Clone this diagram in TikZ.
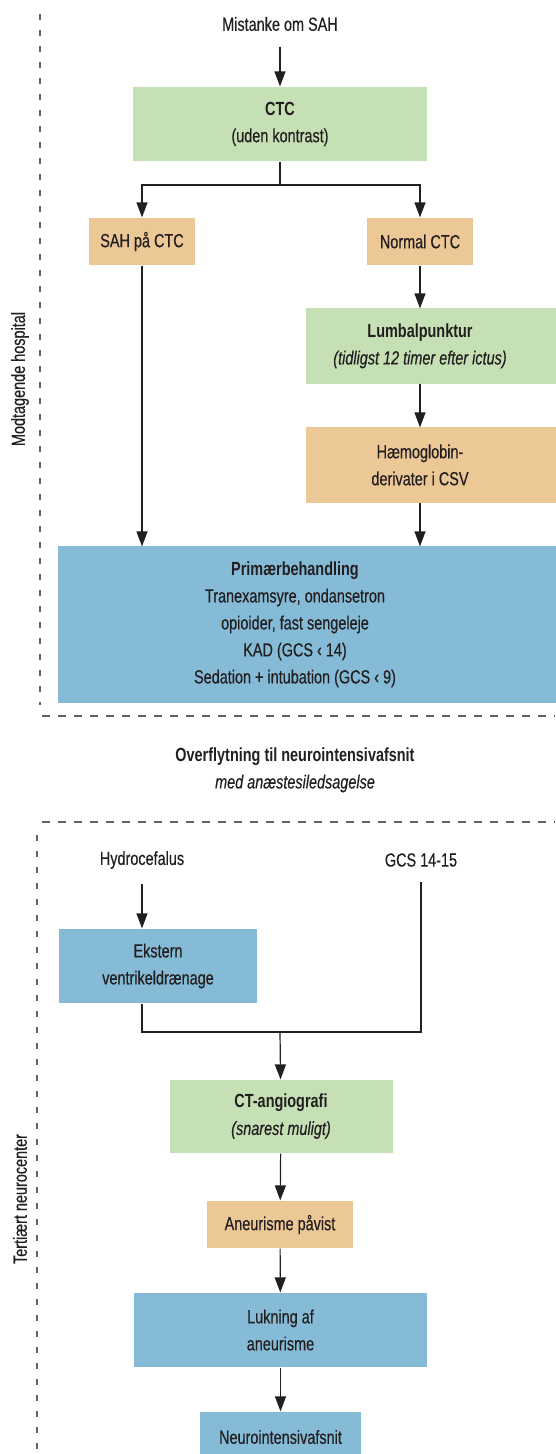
\documentclass[tikz,border=0pt]{standalone}
\usepackage{fontspec}
\setmainfont{Liberation Sans}[FakeStretch=0.76,UprightFeatures={FakeBold=0.4},ItalicFeatures={FakeBold=0.4}]
\usetikzlibrary{arrows.meta,positioning,backgrounds}
\definecolor{ctgreen}{RGB}{197,224,180}
\definecolor{findorange}{RGB}{236,200,150}
\definecolor{treatblue}{RGB}{133,187,214}
\definecolor{inkgray}{RGB}{35,31,32}
\definecolor{dashgray}{RGB}{100,100,100}
\begin{document}
\begin{tikzpicture}[x=1pt,y=-1pt,line width=1.2pt,
  txt/.style={text=inkgray,font=\fontsize{19}{27}\selectfont,align=center,inner sep=2pt},
  entry/.style={txt,inner ysep=15pt},
  box/.style={txt,inner sep=0pt,minimum height=74pt},
  arr/.style={draw=inkgray,-{Triangle[length=15pt,width=11pt]}},
  sep/.style={dashgray,line width=1.3pt,dash pattern=on 8pt off 8pt}]
\useasboundingbox (0,0) rectangle (555,1454);
%\draw[step=50,gray,very thin] (0,0) grid (555,1454);
\draw[sep,dash pattern=on 6pt off 10pt] (40,14) -- (40,705);
\draw[sep] (42,716) -- (555,716);
\draw[sep] (42,822) -- (555,822);
\draw[sep,dash pattern=on 6pt off 10pt] (37,835) -- (37,1454);
\node[txt,rotate=90] (modtag) at (20,379) {Modtagende hospital};
\node[txt,rotate=90] (tertiaer) at (20,1199) {Tertiært neurocenter};

\node[entry] (mistanke) at (280,24) {Mistanke om SAH};
\node[box,fill=ctgreen,minimum width=294pt] (ctc) at (280,124) {\textbf{CTC}\\(uden kontrast)};
\node[box,fill=findorange,minimum width=106pt,minimum height=47pt] (sah) at (142,241.5) {SAH på CTC};
\node[box,fill=findorange,minimum width=106pt,minimum height=47pt] (normal) at (420,241.5) {Normal CTC};
% these three run on to the right edge
\node[box,minimum width=226pt] (lumbal) at (420,346) {\textbf{Lumbalpunktur}\\\textit{(tidligst 12 timer efter ictus)}};
\node[box,minimum width=226pt] (haemo) at (420,465) {Hæmoglobin-\\derivater i CSV};
\node[box,minimum width=472pt,minimum height=155pt] (prim) at (295,624.5) {\textbf{Primærbehandling}\\Tranexamsyre, ondansetron\\opioider, fast sengeleje\\KAD (GCS ‹ 14)\\Sedation + intubation (GCS ‹ 9)};
\begin{scope}[on background layer]
\fill[ctgreen] (lumbal.north west) rectangle ([xshift=24pt]lumbal.south east);
\fill[findorange] (haemo.north west) rectangle ([xshift=24pt]haemo.south east);
\fill[treatblue] (prim.north west) rectangle ([xshift=26pt]prim.south east);
\end{scope}

\node[txt] (flyt) at (295,770) {\textbf{Overflytning til neurointensivafsnit}\\\textit{med anæstesiledsagelse}};

\node[entry] (hydro) at (142,860) {Hydrocefalus};
\node[entry] (gcs) at (421,860) {GCS 14-15};
\node[box,fill=treatblue,minimum width=198pt] (evd) at (158,966) {Ekstern\\ventrikeldrænage};
\node[box,fill=ctgreen,minimum width=223pt,minimum height=73pt] (cta) at (281,1116.5) {\textbf{CT-angiografi}\\\textit{(snarest muligt)}};
\node[box,fill=findorange,minimum width=146pt,minimum height=47pt] (aneur) at (280,1224.5) {Aneurisme påvist};
\node[box,fill=treatblue,minimum width=293pt] (lukning) at (280.5,1330) {Lukning af\\aneurisme};
\node[box,fill=treatblue,minimum width=161pt,minimum height=50pt] (neuro) at (280.5,1437) {Neurointensivafsnit};

\coordinate (split) at (280,185);
\coordinate (join) at (280,1032);
\draw[arr] (mistanke) -- (ctc);
\draw[inkgray] (ctc) -- (split);
\draw[arr] (split) -| (sah);
\draw[arr] (split) -| (normal);
\draw[arr] (sah) -- (sah |- prim.north);
\draw[arr] (normal) -- (lumbal);
\draw[arr] (lumbal) -- (haemo);
\draw[arr] (haemo) -- (haemo |- prim.north);

\draw[arr] (hydro) -- (hydro |- evd.north);
\draw[inkgray] (hydro |- evd.south) -- (hydro |- join) -- (gcs |- join) -- (gcs);
\draw[arr] (join) -- (cta);
\draw[arr] (cta) -- (aneur);
\draw[arr] (aneur) -- (lukning);
\draw[arr] (lukning) -- (neuro);
\end{tikzpicture}
\end{document}
